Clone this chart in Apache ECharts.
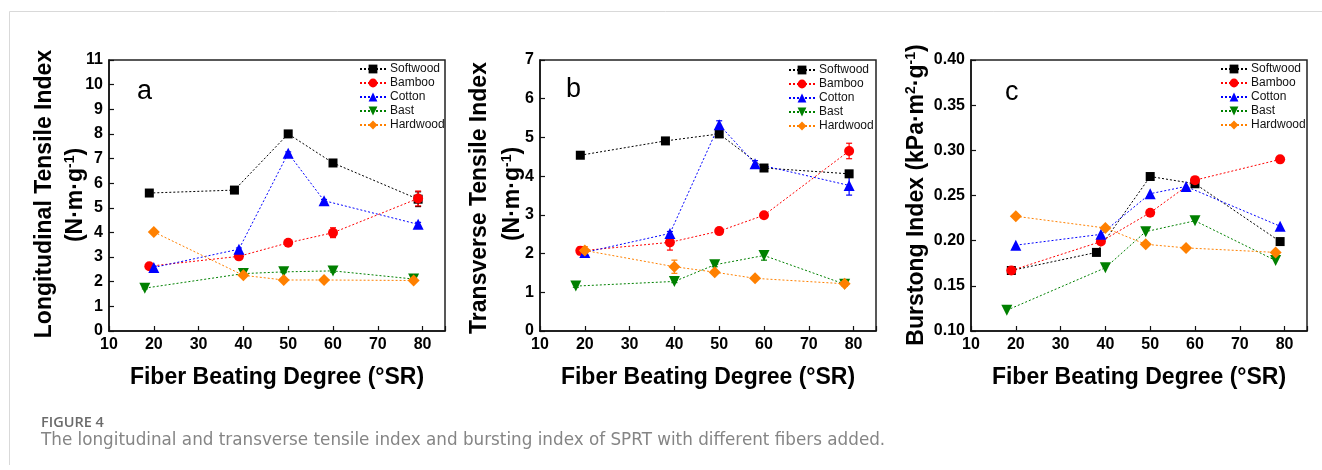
<!DOCTYPE html>
<html>
<head>
<meta charset="utf-8">
<script src="https://cdn.jsdelivr.net/npm/echarts@6/dist/echarts.min.js"></script>
<style>
html,body{margin:0;padding:0;background:#fff;}
#chart{width:1322px;height:470px;}
</style>
</head>
<body>
<div id="chart"></div>
<script>
// ---- data ----
const fibers = ['Softwood', 'Bamboo', 'Cotton', 'Bast', 'Hardwood'];
const xTicks = [10, 20, 30, 40, 50, 60, 70, 80];

// beating degree (°SR) for each fiber
const xSoftwood = [19, 38, 50, 60, 79];
const xBamboo   = [19, 39, 50, 60, 79];
const xCotton   = [20, 39, 50, 58, 79];
const xBast     = [18, 40, 49, 60, 78];
const xHardwood = [20, 40, 49, 58, 78];

// (a) longitudinal tensile index
const longSoftwood = [5.60, 5.72, 8.00, 6.82, 5.35];
const longBamboo   = [2.63, 3.03, 3.58, 3.99, 5.38];
const longCotton   = [2.58, 3.32, 7.22, 5.29, 4.33];
const longBast     = [1.74, 2.33, 2.40, 2.44, 2.11];
const longHardwood = [4.02, 2.26, 2.07, 2.07, 2.05];
const longErrSoftwood = [0.05, 0.05, 0.12, 0.12, 0.30];
const longErrBamboo   = [0.05, 0.05, 0.05, 0.20, 0.30];
const longErrCotton   = [0.05, 0.05, 0.05, 0.05, 0.08];
const longErrBast     = [0.03, 0.03, 0.03, 0.05, 0.03];
const longErrHardwood = [0.03, 0.05, 0.03, 0.03, 0.03];

// (b) transverse tensile index
const transSoftwood = [4.54, 4.91, 5.09, 4.21, 4.06];
const transBamboo   = [2.07, 2.29, 2.58, 2.99, 4.65];
const transCotton   = [2.03, 2.52, 5.33, 4.32, 3.76];
const transBast     = [1.16, 1.28, 1.71, 1.95, 1.21];
const transHardwood = [2.08, 1.66, 1.52, 1.36, 1.22];
const transErrSoftwood = [0.03, 0.03, 0.05, 0.03, 0.05];
const transErrBamboo   = [0.10, 0.20, 0.05, 0.05, 0.20];
const transErrCotton   = [0.05, 0.05, 0.10, 0.08, 0.25];
const transErrBast     = [0.03, 0.03, 0.05, 0.12, 0.05];
const transErrHardwood = [0.10, 0.17, 0.05, 0.05, 0.05];

// (c) bursting index
const burstSoftwood = [0.167, 0.187, 0.271, 0.263, 0.199];
const burstBamboo   = [0.167, 0.199, 0.231, 0.267, 0.290];
const burstCotton   = [0.195, 0.207, 0.252, 0.260, 0.216];
const burstBast     = [0.123, 0.170, 0.210, 0.222, 0.178];
const burstHardwood = [0.227, 0.214, 0.196, 0.192, 0.187];

// ---- styling ----
const FONT = '"Liberation Sans", Arial, sans-serif';
const colors = ['#000000', '#ff0000', '#0000ff', '#008000', '#ff8000'];
const symbols = ['rect', 'circle', 'triangle', 'triangle', 'diamond'];
const symbolSizes = [9, 10, 11, 11, 12];
const symbolRotates = [0, 0, 0, 180, 0];

const xs = [xSoftwood, xBamboo, xCotton, xBast, xHardwood];
const panels = [
  { ys: [longSoftwood, longBamboo, longCotton, longBast, longHardwood],
    errs: [longErrSoftwood, longErrBamboo, longErrCotton, longErrBast, longErrHardwood],
    min: 0, max: 11, interval: 1, dec: 0 },
  { ys: [transSoftwood, transBamboo, transCotton, transBast, transHardwood],
    errs: [transErrSoftwood, transErrBamboo, transErrCotton, transErrBast, transErrHardwood],
    min: 0, max: 7, interval: 1, dec: 0 },
  { ys: [burstSoftwood, burstBamboo, burstCotton, burstBast, burstHardwood],
    errs: null, min: 0.1, max: 0.4, interval: 0.05, dec: 2 }
];
const gridLefts = [109, 540, 971];
const legendLefts = [359, 788, 1220];
const legendTops = [63, 64, 63];

const grids = [], xAxes = [], yAxes = [], series = [], legends = [];
panels.forEach((p, gi) => {
  grids.push({ left: gridLefts[gi], top: 60, width: 336, height: 271,
    show: true, borderColor: '#222', borderWidth: 1.5, backgroundColor: 'transparent' });
  xAxes.push({
    type: 'value', gridIndex: gi, min: 10, max: 85, interval: 10,
    axisLine: { onZero: false, lineStyle: { color: '#111', width: 1.5 } },
    axisTick: { inside: true, length: 5, lineStyle: { color: '#111', width: 1.2 } },
    splitLine: { show: false },
    axisLabel: { color: '#000', fontFamily: FONT, fontWeight: 'bold', fontSize: 16, margin: 6,
      formatter: v => (xTicks.indexOf(v) >= 0 ? String(v) : '') },
    name: 'Fiber Beating Degree (°SR)', nameLocation: 'middle', nameGap: 35,
    nameTextStyle: { color: '#000', fontFamily: FONT, fontWeight: 'bold', fontSize: 23 }
  });
  yAxes.push({
    type: 'value', gridIndex: gi, min: p.min, max: p.max, interval: p.interval,
    axisLine: { onZero: false, lineStyle: { color: '#111', width: 1.5 } },
    axisTick: { inside: true, length: 5, lineStyle: { color: '#111', width: 1.2 } },
    splitLine: { show: false },
    axisLabel: { color: '#000', fontFamily: FONT, fontWeight: 'bold', fontSize: 16, margin: 6,
      formatter: v => v.toFixed(p.dec) }
  });
  fibers.forEach((name, si) => {
    const data = xs[si].map((x, k) => [x, p.ys[si][k]]);
    if (p.errs) {
      const edata = xs[si].map((x, k) => [x, p.ys[si][k], p.errs[si][k]]);
      series.push({
        type: 'custom', xAxisIndex: gi, yAxisIndex: gi, z: 1, silent: true,
        data: edata,
        renderItem: (params, api) => {
          const x = api.value(0), y = api.value(1), e = api.value(2);
          const top = api.coord([x, y + e]);
          const bot = api.coord([x, y - e]);
          const w = 3;
          const st = { stroke: colors[si], lineWidth: 1.2 };
          return { type: 'group', children: [
            { type: 'line', shape: { x1: top[0], y1: top[1], x2: bot[0], y2: bot[1] }, style: st },
            { type: 'line', shape: { x1: top[0] - w, y1: top[1], x2: top[0] + w, y2: top[1] }, style: st },
            { type: 'line', shape: { x1: bot[0] - w, y1: bot[1], x2: bot[0] + w, y2: bot[1] }, style: st }
          ]};
        }
      });
    }
    series.push({
      name: name, type: 'line', xAxisIndex: gi, yAxisIndex: gi, z: 3,
      data: data,
      symbol: symbols[si], symbolSize: symbolSizes[si], symbolRotate: symbolRotates[si],
      showAllSymbol: true,
      itemStyle: { color: colors[si] },
      lineStyle: { color: colors[si], width: 1, type: [2, 2] },
      emphasis: { disabled: true },
      animation: false
    });
  });
  legends.push({
    data: fibers, orient: 'vertical', left: legendLefts[gi], top: legendTops[gi],
    itemWidth: 26, itemHeight: 11, itemGap: 2, padding: 0,
    selectedMode: false,
    textStyle: { fontFamily: FONT, fontSize: 12, color: '#111', padding: [0, 0, 0, -1] }
  });
});

const bold23 = 'bold 23px ' + FONT;
const supStyle = { fontFamily: FONT, fontWeight: 'bold', fontSize: 14, verticalAlign: 'top', lineHeight: 25, padding: [0,0,9,0] };
const mainStyle = { fontFamily: FONT, fontWeight: 'bold', fontSize: 23, lineHeight: 25 };
function rotText(x, y, text, rich) {
  return { type: 'text', x: x, y: y, rotation: Math.PI / 2,
    style: { text: text, rich: rich, font: bold23, fill: '#000', align: 'center', verticalAlign: 'middle' } };
}
const richY = { m: mainStyle, s: supStyle };

const option = {
  animation: false,
  grid: grids, xAxis: xAxes, yAxis: yAxes, series: series, legend: legends,
  graphic: [
    { type: 'line', shape: { x1: 9.5, y1: 11.5, x2: 1322, y2: 11.5 }, style: { stroke: '#d9d9d9', lineWidth: 1 } },
    { type: 'line', shape: { x1: 9.5, y1: 11.5, x2: 9.5, y2: 465 }, style: { stroke: '#d9d9d9', lineWidth: 1 } },
    rotText(45, 194, '{m|Longitudinal Tensile Index}', richY),
    rotText(76, 195, '{m|(N·m·g}{s|-1}{m|)}', richY),
    rotText(480, 198, '{m|Transverse Tensile Index}', richY),
    rotText(513, 194, '{m|(N·m·g}{s|-1}{m|)}', richY),
    rotText(917, 195, '{m|Burstong Index (kPa·m}{s|2}{m|·g}{s|-1}{m|)}', richY),
    { type: 'text', x: 137, y: 92, style: { text: 'a', font: '27px ' + FONT, fill: '#000', verticalAlign: 'middle' } },
    { type: 'text', x: 566, y: 90, style: { text: 'b', font: '27px ' + FONT, fill: '#000', verticalAlign: 'middle' } },
    { type: 'text', x: 1005, y: 93, style: { text: 'c', font: '27px ' + FONT, fill: '#000', verticalAlign: 'middle' } },
    { type: 'text', x: 41, y: 423, style: { text: 'FIGURE 4', font: '600 14.5px "Open Sans", sans-serif', fill: '#6b6b6b', verticalAlign: 'middle' } },
    { type: 'text', x: 41, y: 441, style: { text: 'The longitudinal and transverse tensile index and bursting index of SPRT with different fibers added.', font: '16.8px "DejaVu Sans", sans-serif', fill: '#858585', verticalAlign: 'middle' } }
  ]
};

const chart = echarts.init(document.getElementById('chart'), null, { renderer: 'canvas' });
chart.setOption(option);
</script>
</body>
</html>
